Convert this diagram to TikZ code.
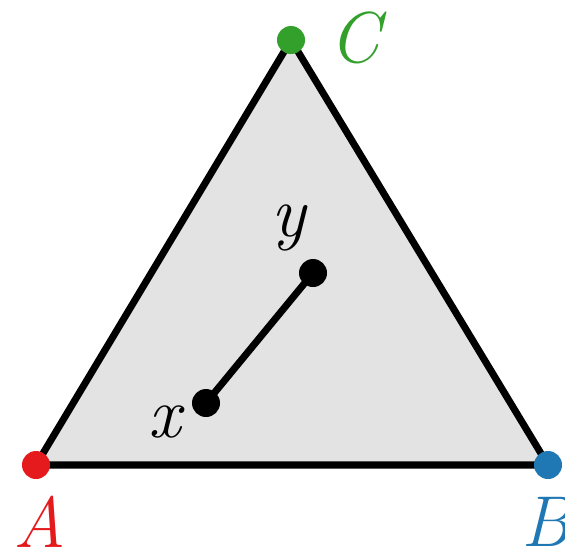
\documentclass[tikz,border=0pt]{standalone}
\usepackage{amsmath}
\usepackage{tikz}
\usepackage{xcolor}
\definecolor{ptred}{HTML}{E41A1C}
\definecolor{ptblue}{HTML}{1F78B4}
\definecolor{ptgreen}{HTML}{33A02C}
\definecolor{simplexgray}{HTML}{E3E3E3}
\tikzset{
    lab/.style={font=\fontsize{41}{44}\selectfont\itshape},
    dot/.style={radius=14}
}

\begin{document}
\begin{tikzpicture}[x=0.02cm,y=-0.02cm]
    \useasboundingbox (0,0) rectangle (565,555);
    \coordinate (A) at (36,465);
    \coordinate (B) at (548,465);
    \coordinate (C) at (291,40);
    \coordinate (x) at (206,403);
    \coordinate (y) at (313,273);
    \filldraw[fill=simplexgray,line width=4pt,line join=miter] (A)--(B)--(C)--cycle;
    \draw[line width=4pt] (x)--(y);
    \fill (x) circle[dot];
    \fill (y) circle[dot];
    \fill[ptred] (A) circle[dot];
    \fill[ptblue] (B) circle[dot];
    \fill[ptgreen] (C) circle[dot];
    \node[lab,text=ptred] (labA) at (40,522) {A};
    \node[lab,text=ptblue] (labB) at (546,522) {B};
    \node[lab,text=ptgreen] (labC) at (355,38) {C};
    \node[lab] (labx) at (165,422) {x};
    \node[lab] (laby) at (289,228) {y};
\end{tikzpicture}
\end{document}
